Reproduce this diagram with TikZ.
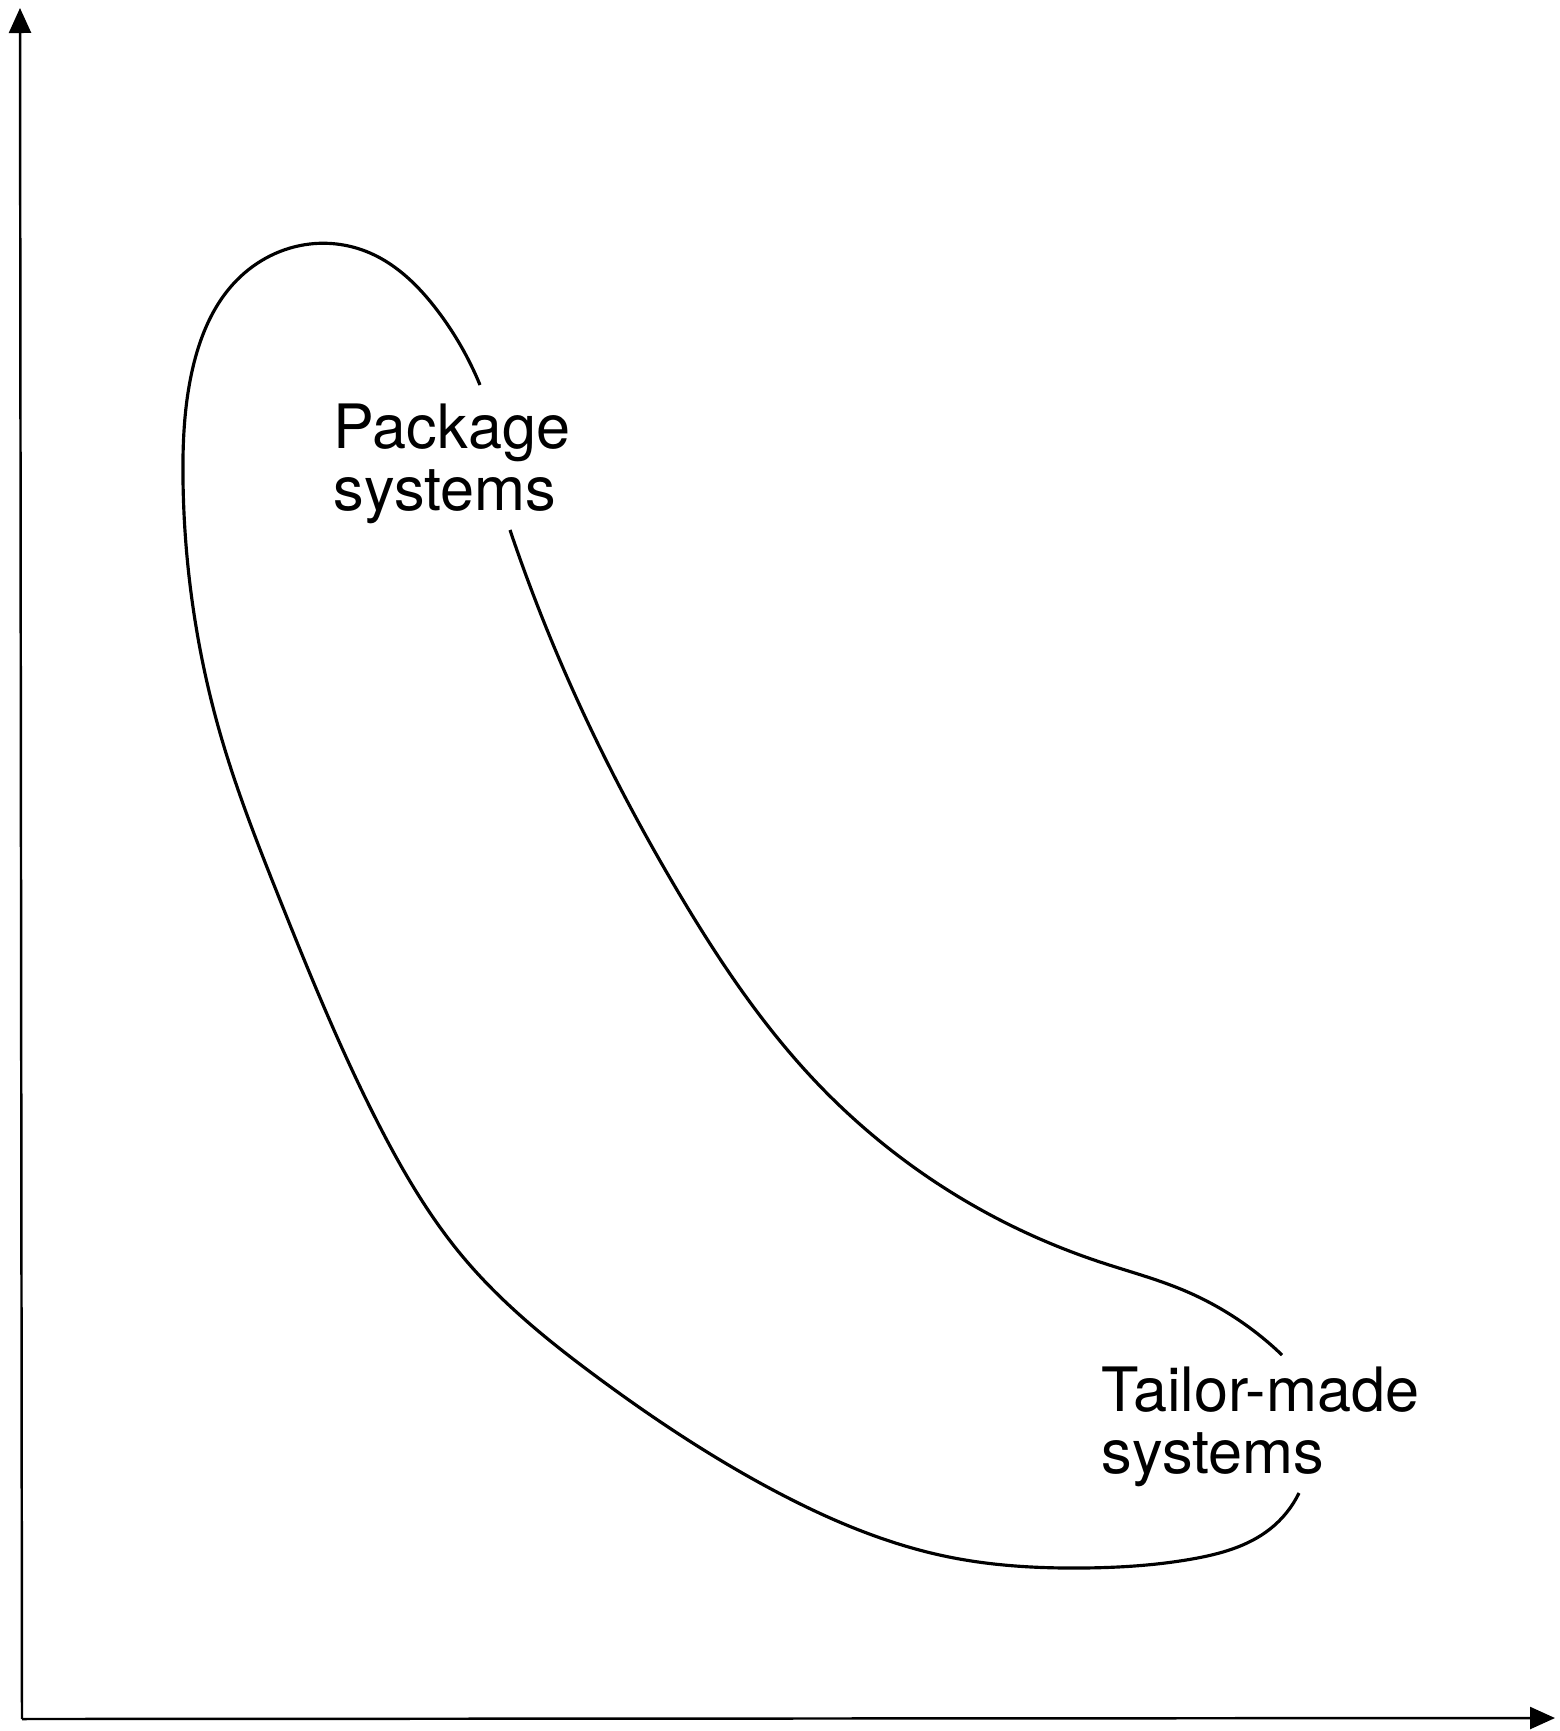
\documentclass[tikz,border=0pt]{standalone}
\usepackage{fontspec}
\setmainfont{TeX Gyre Heros}
\usetikzlibrary{arrows.meta,hobby}
\begin{document}
\begin{tikzpicture}[x=0.01cm,y=-0.01cm,>={Triangle[length=0.25cm,width=0.22cm]},
	axis/.style={line width=0.7pt},
	blob/.style={line width=0.9pt,use Hobby shortcut},
	lbl/.style={anchor=north west,inner sep=0pt,align=left,font=\fontsize{17.4}{17.8}\selectfont}]
	\useasboundingbox (0,0) rectangle (1559,1731);
	% axes
	\coordinate (O) at (22,1719);
	\coordinate (ytip) at (20,8);
	\coordinate (xtip) at (1555,1718);
	\draw[axis,->] (O)--(ytip);
	\draw[axis,->] (O)--(xtip);
	% labels
	\node[lbl] (pack) at (333,403) {Package\\systems};
	\node[lbl] (tailor) at (1101,1366) {Tailor-made\\systems};
	% the region, broken round the labels
	\draw[blob] (510,530) .. (567,677) .. (677,890) .. (817,1083)
		.. (1000,1220) .. (1100,1262) .. (1183,1290) .. (1282,1355);
	\draw[blob] (1299,1493) .. (1270,1529) .. (1192,1559) .. (1082,1568) .. (949,1557)
		.. (773,1490) .. (597,1377) .. (463,1257) .. (380,1127)
		.. (280,900) .. (220,733) .. (192,600) .. (183,480)
		.. (193,367) .. (237,280) .. (310,244) .. (370,253) .. (437,310) .. (480,385);
\end{tikzpicture}
\end{document}
